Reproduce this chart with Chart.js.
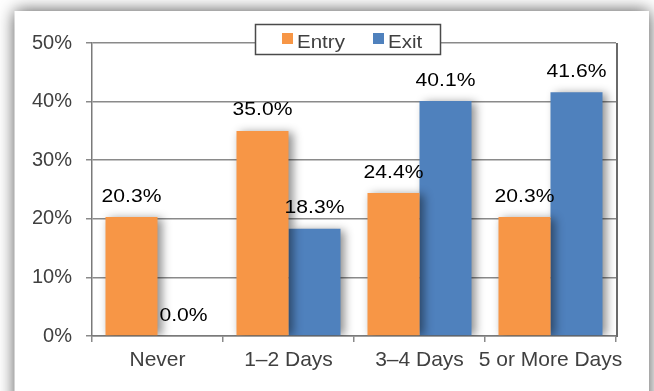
<!DOCTYPE html>
<html>
<head>
<meta charset="utf-8">
<script src="https://cdn.jsdelivr.net/npm/chart.js@4/dist/chart.umd.min.js"></script>
<style>
html,body{margin:0;padding:0;background:#fff;}
#wrap{width:654px;height:391px;position:relative;}
</style>
</head>
<body>
<div id="wrap"><canvas id="c" width="654" height="391"></canvas></div>
<script>
const categories = ["Never", "1\u20132 Days", "3\u20134 Days", "5 or More Days"];
const entryValues = [20.3, 35.0, 24.4, 20.3];
const exitValues = [0.0, 18.3, 40.1, 41.6];
const seriesNames = ["Entry", "Exit"];
const yTicks = [0, 10, 20, 30, 40, 50];

const FONT = "'Liberation Sans', Arial, sans-serif";
const GRID = '#8a8a8a';

const framePlugin = {
  id: 'frame',
  beforeDraw(chart) {
    const ctx = chart.ctx;
    ctx.save();
    ctx.fillStyle = '#ffffff';
    ctx.fillRect(0, 0, chart.width, chart.height);
    ctx.shadowColor = 'rgba(0,0,0,0.7)';
    ctx.shadowBlur = 16;
    ctx.fillRect(14.5, 11, 634.5, 420);
    ctx.restore();
  },
  beforeDatasetsDraw(chart) {
    const ctx = chart.ctx, a = chart.chartArea;
    ctx.save();
    ctx.strokeStyle = '#6a6a6a';
    ctx.lineWidth = 2;
    ctx.beginPath();
    ctx.moveTo(Math.round(a.right) + 1, Math.round(a.top));
    ctx.lineTo(Math.round(a.right) + 1, Math.round(a.bottom) + 1);
    ctx.stroke();
    ctx.restore();
    ctx.save();
    ctx.shadowColor = 'rgba(0,0,0,0.45)';
    ctx.shadowBlur = 9;
    ctx.shadowOffsetX = 4;
    ctx.shadowOffsetY = 1;
  },
  afterDatasetsDraw(chart) {
    const ctx = chart.ctx;
    ctx.restore();
    ctx.save();
    ctx.fillStyle = '#000000';
    ctx.font = '19px ' + FONT;
    ctx.textAlign = 'center';
    ctx.textBaseline = 'alphabetic';
    chart.data.datasets.forEach((ds, di) => {
      const meta = chart.getDatasetMeta(di);
      meta.data.forEach((bar, i) => {
        const txt = ds.data[i].toFixed(1) + '%';
        ctx.save();
        ctx.translate(bar.x, bar.y - 15.5);
        ctx.scale(1.11, 1);
        ctx.fillText(txt, 0, 0);
        ctx.restore();
      });
    });
    ctx.restore();
  },
  afterDraw(chart) {
    const ctx = chart.ctx, a = chart.chartArea;
    const cx = (a.left + a.right) / 2 - 6.6;
    const w = 185, h = 30;
    const left = Math.round(cx - w / 2) + 0.5, top = 24.5;
    ctx.save();
    ctx.fillStyle = '#fff';
    ctx.fillRect(left, top, w, h);
    ctx.strokeStyle = '#4a4a4a';
    ctx.lineWidth = 1.5;
    ctx.strokeRect(left, top, w, h);
    ctx.font = '19px ' + FONT;
    ctx.textBaseline = 'alphabetic';
    ctx.textAlign = 'left';
    const offs = [26.5, 117.5];
    chart.data.datasets.forEach((ds, di) => {
      const x = left + offs[di];
      ctx.fillStyle = ds.backgroundColor;
      ctx.fillRect(x, top + 8.5, 11, 11);
      ctx.fillStyle = '#404040';
      ctx.save();
      ctx.translate(x + 15, top + 23);
      ctx.scale(1.08, 1);
      ctx.fillText(ds.label, 0, 0);
      ctx.restore();
    });
    ctx.restore();
  }
};

new Chart(document.getElementById('c'), {
  type: 'bar',
  data: {
    labels: categories,
    datasets: [
      { label: seriesNames[0], data: entryValues, backgroundColor: '#F79646', borderWidth: 0 },
      { label: seriesNames[1], data: exitValues, backgroundColor: '#4F81BD', borderWidth: 0 }
    ]
  },
  options: {
    responsive: false,
    animation: false,
    events: [],
    layout: { padding: { left: 0, top: 43, right: 38, bottom: 0 } },
    datasets: { bar: { barPercentage: 1.0, categoryPercentage: 0.794 } },
    plugins: { legend: { display: false }, tooltip: { enabled: false } },
    scales: {
      x: {
        offset: true,
        grid: { offset: true, drawOnChartArea: false, drawTicks: true, tickLength: 6, color: GRID, lineWidth: 1.5 },
        border: { display: true, color: '#7a7a7a', width: 1.5 },
        ticks: { color: '#404040', font: { family: FONT, size: 21 }, padding: 6, maxRotation: 0, autoSkip: false },
        afterFit(s) { s.height = 55; }
      },
      y: {
        min: yTicks[0],
        max: yTicks[yTicks.length - 1],
        afterBuildTicks(s) { s.ticks = yTicks.map(v => ({ value: v })); },
        grid: { color: GRID, tickLength: 6, drawTicks: true, lineWidth: 1.5 },
        border: { display: true, color: '#7a7a7a', width: 1.5 },
        ticks: { color: '#404040', font: { family: FONT, size: 20 }, padding: 14, callback: v => v + '%' },
        afterFit(s) { s.width = 92; }
      }
    }
  },
  plugins: [framePlugin]
});
</script>
</body>
</html>
